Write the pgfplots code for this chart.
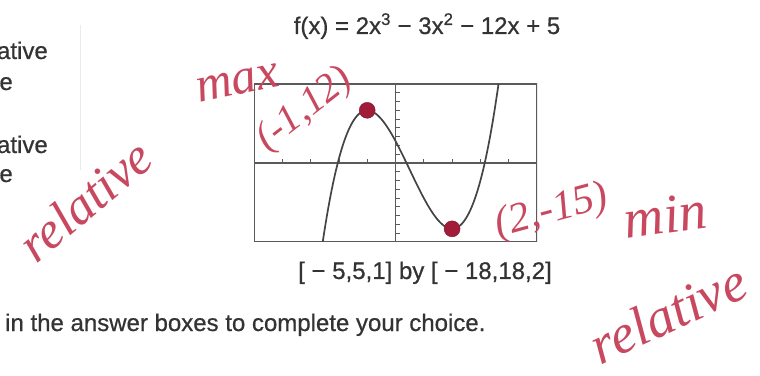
\documentclass[border=0pt]{standalone}
\usepackage{pgfplots}
\pgfplotsset{compat=1.18}
\usepackage{fontspec}
\setmainfont{Liberation Sans}
\newfontfamily\printfont{Liberation Sans}[FakeBold=0.6]
\newfontfamily\hand{Liberation Serif}
\definecolor{inkgray}{HTML}{333333}
\definecolor{curvecol}{HTML}{444444}
\definecolor{framecol}{HTML}{5A5A5A}
\definecolor{penred}{HTML}{C8485F}
\definecolor{dotred}{HTML}{A01C38}
\begin{document}
\begin{tikzpicture}[x=1pt,y=1pt]
\useasboundingbox (0,0) rectangle (760,375);
\clip (0,0) rectangle (760,375);
\fill[white] (0,0) rectangle (760,375);

% faint column rule
\draw[black!8, line width=1pt] (80,350) -- (80,205);

% printed text
\begin{scope}[every node/.style={inner sep=0pt, text=inkgray, font=\printfont\fontsize{24}{28}\selectfont}]
\node[anchor=base] at (427,341) {f(x) = 2x\textsuperscript{3} − 3x\textsuperscript{2} − 12x + 5};
\node[anchor=base] at (425,96) {[ − 5,5,1] by [ − 18,18,2]};
\node[anchor=base west] at (5,44) {in the answer boxes to complete your choice.};
\node[anchor=base east] at (48,316) {ative};
\node[anchor=base east] at (13,285) {e};
\node[anchor=base east] at (48,222) {ative};
\node[anchor=base east] at (13,193) {e};
\end{scope}

\begin{axis}[
  at={(254pt,133pt)}, anchor=south west,
  scale only axis, width=283pt, height=158pt,
  xmin=-5, xmax=5, ymin=-18, ymax=18,
  axis lines=middle,
  axis line style={draw=framecol, line width=1.3pt, -},
  xtick={-4,-3,-2,-1,1,2,3,4},
  ytick={-16,-14,-12,-10,-8,-6,-4,-2,2,4,6,8,10,12,14,16},
  xticklabels={}, yticklabels={},
  tick align=inside, major tick length=4pt,
  tick style={draw=framecol, line width=0.8pt},
  clip=true,
]
\draw[framecol, line width=2pt] (rel axis cs:0,0) rectangle (rel axis cs:1,1);
% f(x) = 2x^3 - 3x^2 - 12x + 5
\addplot[curvecol, line width=1.7pt, smooth] coordinates {
(-2.57,-17.924) (-2.5,-15) (-2.4,-11.128) (-2.3,-7.604) (-2.2,-4.416)
(-2.1,-1.552) (-2.0,1) (-1.9,3.252) (-1.8,5.216) (-1.7,6.904)
(-1.6,8.328) (-1.5,9.5) (-1.4,10.432) (-1.3,11.136) (-1.2,11.624)
(-1.1,11.908) (-1.0,12) (-0.9,11.912) (-0.8,11.656) (-0.7,11.244)
(-0.6,10.688) (-0.5,10) (-0.4,9.192) (-0.3,8.276) (-0.2,7.264)
(-0.1,6.168) (0,5) (0.1,3.772) (0.2,2.496) (0.3,1.184)
(0.4,-0.152) (0.5,-1.5) (0.6,-2.848) (0.7,-4.184) (0.8,-5.496)
(0.9,-6.772) (1.0,-8) (1.1,-9.168) (1.2,-10.264) (1.3,-11.276)
(1.4,-12.192) (1.5,-13) (1.6,-13.688) (1.7,-14.244) (1.8,-14.656)
(1.9,-14.912) (2.0,-15) (2.1,-14.908) (2.2,-14.624) (2.3,-14.136)
(2.4,-13.432) (2.5,-12.5) (2.6,-11.328) (2.7,-9.904) (2.8,-8.216)
(2.9,-6.252) (3.0,-4) (3.1,-1.448) (3.2,1.416) (3.3,4.604)
(3.4,8.128) (3.5,12) (3.6,16.232) (3.64,18.028)
};
% relative extrema
\addplot[only marks, mark=*, mark size=8pt, color=dotred, mark options={draw=dotred!85!black, fill=dotred}] coordinates {(-1,12) (2,-15)};
\end{axis}

% handwritten notes
\begin{scope}[every node/.style={inner sep=0pt, text=penred}]
\node[rotate=12, font=\hand\itshape\fontsize{50}{52}\selectfont] at (238,292) {max};
\node[rotate=38, font=\hand\itshape\fontsize{40}{42}\selectfont] at (305,265) {(-1,12)};
\node[rotate=40, font=\hand\itshape\fontsize{52}{54}\selectfont] at (85,175) {relative};
\node[rotate=15, font=\hand\itshape\fontsize{42}{44}\selectfont] at (552,163) {(2,-15)};
\node[rotate=8, font=\hand\itshape\fontsize{55}{57}\selectfont] at (665,160) {min};
\node[rotate=25, font=\hand\itshape\fontsize{55}{57}\selectfont] at (668,62) {relative};
\end{scope}
\end{tikzpicture}
\end{document}
